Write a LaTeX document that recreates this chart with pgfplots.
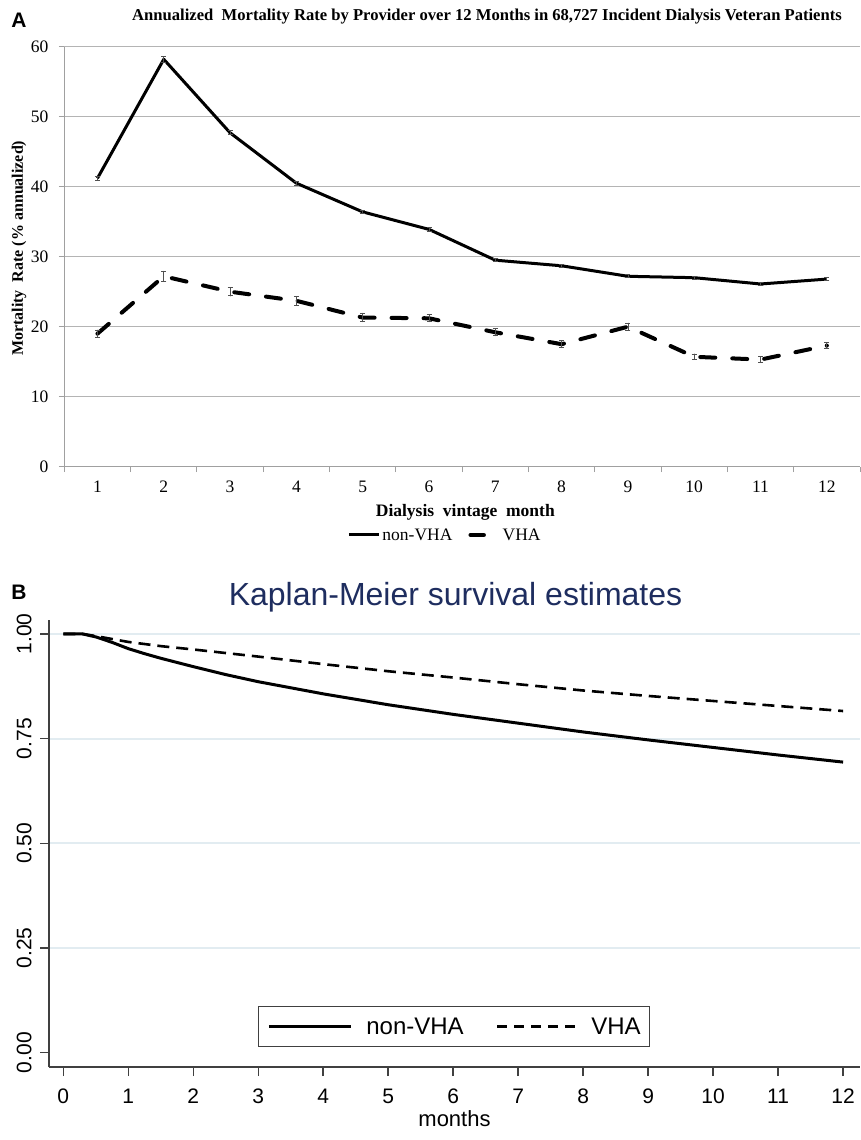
\documentclass[border=0pt]{standalone}
\usepackage{fontspec}
\setmainfont{Liberation Serif}
\newfontfamily\arial{Liberation Sans}
\usepackage{pgfplots}
\usepackage{pgfplotstable}
\pgfplotsset{compat=1.18}
\definecolor{gridA}{HTML}{B4B4B4}
\definecolor{axisA}{HTML}{A0A0A0}
\definecolor{errA}{HTML}{505050}
\definecolor{gridB}{HTML}{E2ECF1}
\definecolor{axisB}{HTML}{404040}
\definecolor{titleB}{RGB}{30,45,95}

\pgfplotstableread{
x y e
1 41.2 0.3
2 58.2 0.4
3 47.7 0.3
4 40.5 0.3
5 36.4 0.25
6 33.9 0.25
7 29.5 0.2
8 28.7 0.2
9 27.2 0.2
10 27.0 0.2
11 26.1 0.2
12 26.8 0.25
}\nonvhaA
\pgfplotstableread{
x y e
1 19.0 0.5
2 27.2 0.7
3 25.0 0.6
4 23.7 0.6
5 21.3 0.6
6 21.2 0.5
7 19.2 0.5
8 17.5 0.5
9 20.0 0.5
10 15.7 0.4
11 15.3 0.4
12 17.3 0.4
}\vhaA
\pgfplotstableread{
x y
0 1.000
0.3 1.000
0.5 0.993
0.75 0.980
1 0.965
1.25 0.953
1.5 0.942
2 0.922
2.5 0.903
3 0.886
4 0.857
5 0.831
6 0.808
7 0.787
8 0.766
9 0.747
10 0.729
11 0.711
12 0.694
}\nonvhaB
\pgfplotstableread{
x y
0 1.000
0.3 1.000
0.5 0.995
0.75 0.988
1 0.981
1.5 0.971
2 0.963
3 0.946
4 0.928
5 0.911
6 0.896
7 0.880
8 0.865
9 0.852
10 0.840
11 0.828
12 0.816
}\vhaB

\begin{document}
\begin{tikzpicture}[x=1pt,y=1pt]
\useasboundingbox (0,0) rectangle (860,1140);
\fill[white] (0,0) rectangle (860,1140);

% ---------------- Panel A ----------------
\node[font=\arial\bfseries\fontsize{21}{21}\selectfont] at (19,1120) {A};
\node[font=\bfseries\fontsize{16.6}{17}\selectfont] at (487,1123)
  {Annualized\ \ Mortality Rate by Provider over 12 Months in 68,727 Incident Dialysis Veteran Patients};

\begin{axis}[
  at={(64.3pt,673.3pt)}, anchor=south west,
  scale only axis, width=795.7pt, height=420pt,
  xmin=0.5, xmax=12.5, ymin=0, ymax=60,
  axis lines*=left,
  axis line style={axisA, line width=1.2pt},
  xtick={0.5,1.5,...,12.5},
  xticklabels={1,2,3,4,5,6,7,8,9,10,11,12},
  x tick label as interval,
  ytick={0,10,...,60},
  major tick length=5.5pt,
  tick align=outside,
  tick style={axisA, line width=1pt},
  ymajorgrids, grid style={gridA, line width=1.2pt},
  /pgf/number format/assume math mode=true,
  tick label style={font=\fontsize{17.5}{18}\selectfont},
  yticklabel style={xshift=-7pt},
  xticklabel style={yshift=-5pt, text height=12pt, text depth=0pt},
  xlabel={Dialysis\ \ vintage\ \ month},
  xlabel style={at={(axis description cs:0.504,-0.1095)}, anchor=center, font=\bfseries\fontsize{17.5}{18}\selectfont},
  ylabel={Mortality\ \ Rate (\% annualized)},
  ylabel style={at={(axis description cs:-0.0568,0.52)}, anchor=center, font=\bfseries\fontsize{16}{17}\selectfont},
  legend columns=2,
  legend style={at={(axis description cs:0.4785,-0.1626)}, anchor=center, draw=none, fill=none,
    font=\fontsize{17.5}{18}\selectfont, inner sep=0pt,
    /tikz/every even column/.append style={column sep=14pt},
    nodes={inner xsep=2pt, inner ysep=1pt}},
]
\addplot[black, line width=3pt, line join=round,
  legend image code/.code={\draw[solid, black, line width=3pt] (0pt,0pt) -- (30pt,0pt);},
  error bars/.cd, y dir=both, y explicit,
  error bar style={solid, line width=0.8pt, errA},
  error mark options={rotate=90, mark size=2.5pt, line width=0.8pt, errA, solid}]
  table[x=x, y=y, y error=e] {\nonvhaA};
\addlegendentry{non-VHA}
\addplot[black, line width=4pt, line cap=round, line join=round, dash pattern=on 15pt off 17pt,
  legend image code/.code={\path[draw=none] (0pt,0pt) -- (32pt,0pt);\draw[solid, black, line width=4.5pt, line cap=round] (2pt,0pt) -- (15pt,0pt);},
  error bars/.cd, y dir=both, y explicit,
  error bar style={solid, line width=0.8pt, errA},
  error mark options={rotate=90, mark size=2.5pt, line width=0.8pt, errA, solid}]
  table[x=x, y=y, y error=e] {\vhaA};
\addlegendentry{VHA}
\end{axis}

% ---------------- Panel B ----------------
\node[font=\arial\bfseries\fontsize{21}{21}\selectfont] at (19,548) {B};
\node[font=\arial\fontsize{32}{32}\selectfont, text=titleB] at (455.5,543) {Kaplan-Meier survival estimates};

\begin{axis}[
  at={(49pt,73pt)}, anchor=south west,
  scale only axis, width=811pt, height=447pt,
  xmin=-0.22, xmax=12.26, ymin=-0.0342, ymax=1.0334,
  axis lines*=left,
  axis line style={axisB, line width=1.5pt},
  xtick={0,1,...,12},
  ytick={0.25,0.5,0.75,1},
  extra y ticks={0},
  extra y tick style={grid=none},
  major tick length=9pt,
  tick align=outside,
  tick style={axisB, line width=1.5pt},
  ymajorgrids, grid style={gridB, line width=1.8pt},
  /pgf/number format/assume math mode=true,
  yticklabel={\pgfmathprintnumber[fixed, fixed zerofill, precision=2]{\tick}},
  tick label style={font=\arial\fontsize{21}{21}\selectfont},
  yticklabel style={xshift=-5pt, rotate=90, anchor=south, text height=15pt, text depth=0pt},
  xticklabel style={yshift=-9pt, text height=15pt, text depth=0pt},
  xlabel={months},
  xlabel style={at={(axis description cs:0.5,0)}, yshift=-52pt, anchor=center, font=\arial\fontsize{22}{22}\selectfont},
  legend columns=2,
  legend style={at={(axis description cs:0.4994,0.0906)}, anchor=center, draw=axisB, line width=1.5pt, fill=white,
    font=\arial\fontsize{24}{24}\selectfont, inner xsep=9pt, inner ysep=11pt,
    /tikz/every odd column/.append style={column sep=14pt},
    /tikz/every even column/.append style={column sep=32pt},
    nodes={inner xsep=0pt, inner ysep=0pt}},
]
\addplot[black, line width=3pt, line join=round,
  legend image code/.code={\draw[solid, black, line width=3pt] (0pt,0pt) -- (82pt,0pt);}]
  table[x=x, y=y] {\nonvhaB};
\addlegendentry{non-VHA}
\addplot[black, line width=2.6pt, dash pattern=on 12pt off 7pt,
  legend image code/.code={\draw[black, line width=2.6pt, dash pattern=on 10pt off 7pt] (0pt,0pt) -- (79pt,0pt);}]
  table[x=x, y=y] {\vhaB};
\addlegendentry{VHA}
\end{axis}
\end{tikzpicture}
\end{document}
